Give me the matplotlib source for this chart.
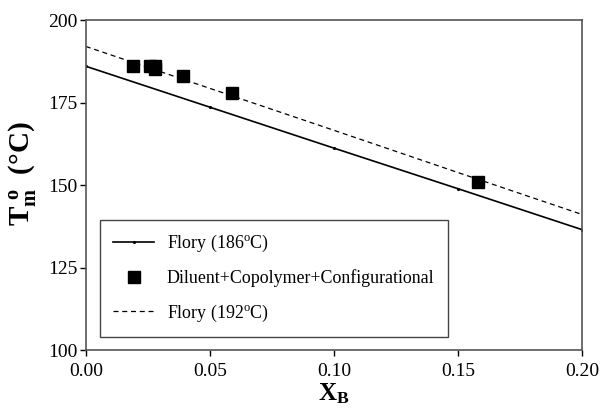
import matplotlib
matplotlib.use('Agg')
import matplotlib.pyplot as plt

plt.rcParams['font.family'] = ['Liberation Serif', 'DejaVu Serif']
plt.rcParams['mathtext.fontset'] = 'custom'
plt.rcParams['mathtext.rm'] = 'Liberation Serif'
plt.rcParams['mathtext.bf'] = 'Liberation Serif:bold'

# Flory line (186 C)
flory186_x = [0.00, 0.05, 0.10, 0.15, 0.20]
flory186_y = [186.0, 173.6, 161.2, 148.9, 136.5]

# Flory line (192 C)
flory192_x = [0.00, 0.05, 0.10, 0.15, 0.20]
flory192_y = [192.0, 179.3, 166.6, 153.8, 141.1]

# measured points
data_x = [0.019, 0.026, 0.028, 0.028, 0.039, 0.059, 0.158]
data_y = [186.0, 186.0, 186.0, 185.2, 183.0, 178.0, 151.0]

fig = plt.figure(figsize=(6.0, 4.09), dpi=100)
ax = fig.add_axes([0.143, 0.144, 0.827, 0.807])

ax.plot(flory186_x, flory186_y, color='black', lw=1.2, marker='.', markersize=2.5,
        label='Flory (186$^{\\rm o}$C)')
ax.plot(data_x, data_y, 's', color='black', markersize=8, linestyle='none',
        label='Diluent+Copolymer+Configurational')
ax.plot(flory192_x, flory192_y, color='black', lw=0.9, linestyle=(0, (4, 3)),
        label='Flory (192$^{\\rm o}$C)')

ax.set_xlim(0, 0.2)
ax.set_ylim(100, 200)
ax.set_xticks([0.00, 0.05, 0.10, 0.15, 0.20])
ax.set_xticklabels(['0.00', '0.05', '0.10', '0.15', '0.20'])
ax.set_yticks([100, 125, 150, 175, 200])
ax.tick_params(direction='out', labelsize=14, length=4, width=1, pad=2)
ax.tick_params(axis='x', pad=5)
for s in ax.spines.values():
    s.set_color('#555555')
    s.set_linewidth(1.2)

ax.set_xlabel('$\\mathbf{X_B}$', fontsize=18, labelpad=1)
ax.set_ylabel('$\\mathbf{T_m^{\\ o}}$  (°C)', fontsize=21, fontweight='bold')
ax.yaxis.set_label_coords(-0.095, 0.535)

leg = ax.legend(loc='lower left', bbox_to_anchor=(0.028, 0.039), borderaxespad=0,
                fontsize=12.9, fancybox=False, edgecolor='#444444', framealpha=1,
                handlelength=2.3, handletextpad=0.7, labelspacing=0.85, borderpad=0.75)
leg.get_frame().set_linewidth(1.0)

fig.savefig('out.png', dpi=100)
